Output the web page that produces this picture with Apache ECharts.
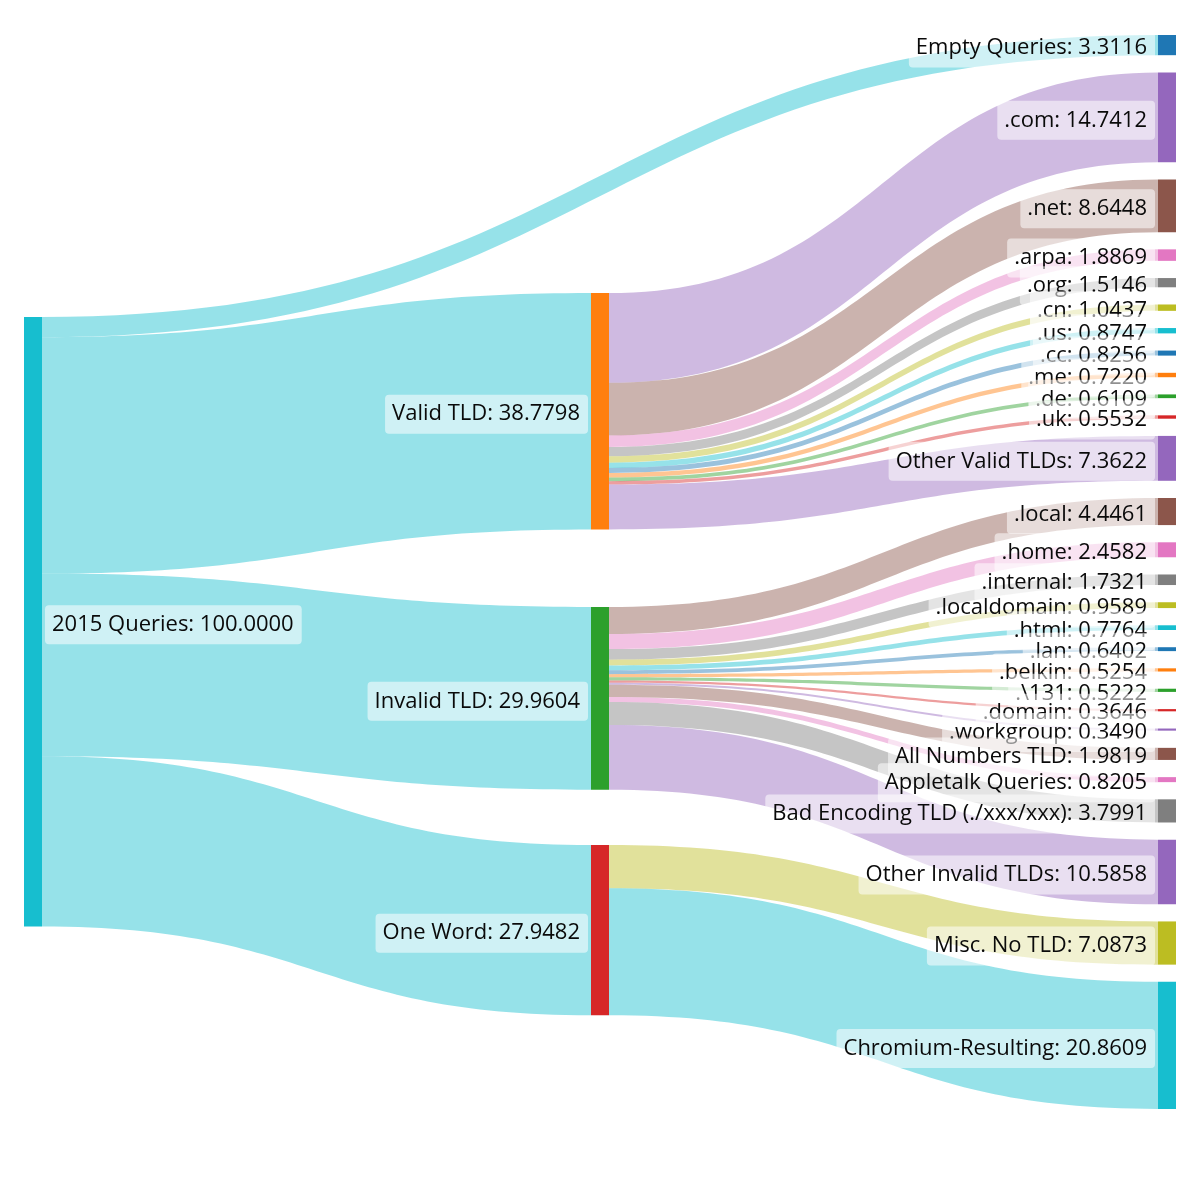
<!DOCTYPE html>
<html>
<head>
    <meta charset="utf-8">
    <title>2015 Queries</title>
    <script src="https://cdn.jsdelivr.net/npm/echarts@6.0.0/dist/echarts.min.js"></script>
    <style>
        html, body {
            margin: 0;
            padding: 0;
            background: #ffffff;
        }

        #sankey {
            width: 1200px;
            height: 1200px;
        }
    </style>
</head>
<body>
<div id="sankey"></div>
<script>
    // ---- data ----
    var rootName = '2015 Queries';

    var splitNames = ['Empty Queries', 'Valid TLD', 'Invalid TLD', 'One Word'];
    var splitValues = [3.3116, 38.7798, 29.9604, 27.9482];

    var validNames = ['.com', '.net', '.arpa', '.org', '.cn', '.us', '.cc', '.me', '.de', '.uk', 'Other Valid TLDs'];
    var validValues = [14.7412, 8.6448, 1.8869, 1.5146, 1.0437, 0.8747, 0.8256, 0.7220, 0.6109, 0.5532, 7.3622];

    var invalidNames = ['.local', '.home', '.internal', '.localdomain', '.html', '.lan', '.belkin', '.\\131',
        '.domain', '.workgroup', 'All Numbers TLD', 'Appletalk Queries', 'Bad Encoding TLD (./xxx/xxx)', 'Other Invalid TLDs'];
    var invalidValues = [4.4461, 2.4582, 1.7321, 0.9589, 0.7764, 0.6402, 0.5254, 0.5222,
        0.3646, 0.3490, 1.9819, 0.8205, 3.7991, 10.5858];

    var oneWordNames = ['Misc. No TLD', 'Chromium-Resulting'];
    var oneWordValues = [7.0873, 20.8609];

    // ---- styles ----
    var c10 = ['#1f77b4', '#ff7f0e', '#2ca02c', '#d62728', '#9467bd', '#8c564b', '#e377c2', '#7f7f7f', '#bcbd22', '#17becf'];
    var rootColor = c10[9];
    var splitColors = [c10[0], c10[1], c10[2], c10[3]];
    var validColors = [c10[4], c10[5], c10[6], c10[7], c10[8], c10[9], c10[0], c10[1], c10[2], c10[3], c10[4]];
    var invalidColors = [c10[5], c10[6], c10[7], c10[8], c10[9], c10[0], c10[1], c10[2], c10[3], c10[4], c10[5], c10[6], c10[7], c10[4]];
    var oneWordColors = [c10[8], c10[9]];

    // layout box of the series, and where the root / middle boxes sit (pixel top on the page);
    // the right-hand column is stacked by ECharts itself in data order
    var box = {left: 24, top: 35, right: 24, bottom: 91};
    var boxHeight = 1200 - box.top - box.bottom;
    var nodeTops = {'2015 Queries': 317, 'Valid TLD': 293, 'Invalid TLD': 607, 'One Word': 845};

    // ---- build nodes and links ----
    var nodes = [];
    var links = [];
    var values = {};

    function addNode(name, value, depth, color) {
        values[name] = value;
        var item = {
            name: name,
            depth: depth,
            itemStyle: {color: color},
            label: {position: depth === 0 ? 'right' : 'left'}
        };
        if (nodeTops[name] != null) {
            item.localY = (nodeTops[name] - box.top) / boxHeight;
        }
        nodes.push(item);
    }

    function addGroup(parent, names, vals, colors) {
        names.forEach(function (n, i) {
            addNode(n, vals[i], 2, colors[i]);
            links.push({source: parent, target: n, value: vals[i], lineStyle: {color: colors[i]}});
        });
    }

    addNode(rootName, splitValues.reduce(function (a, b) { return a + b; }, 0), 0, rootColor);
    splitNames.forEach(function (n, i) {
        // Empty Queries ends the flow, the others split further
        addNode(n, splitValues[i], i === 0 ? 2 : 1, splitColors[i]);
    });
    splitNames.forEach(function (n, i) {
        links.push({source: rootName, target: n, value: splitValues[i], lineStyle: {color: rootColor}});
    });
    // leaf order: Empty Queries first, then the children of each split
    var empty = nodes.splice(1, 1)[0];
    nodes.push(empty);
    addGroup('Valid TLD', validNames, validValues, validColors);
    addGroup('Invalid TLD', invalidNames, invalidValues, invalidColors);
    addGroup('One Word', oneWordNames, oneWordValues, oneWordColors);

    var chart = echarts.init(document.getElementById('sankey'));
    chart.setOption({
        animation: false,
        series: [{
            type: 'sankey',
            left: box.left,
            top: box.top,
            right: box.right,
            bottom: box.bottom,
            nodeWidth: 18,
            nodeGap: 17.2,
            layoutIterations: 0,
            nodeAlign: 'justify',
            draggable: false,
            emphasis: {disabled: true},
            data: nodes,
            links: links,
            itemStyle: {borderWidth: 0},
            lineStyle: {curveness: 0.5, opacity: 0.45},
            label: {
                color: '#0a0a0a',
                fontFamily: 'Open Sans',
                fontSize: 22,
                lineHeight: 22,
                backgroundColor: 'rgba(255,255,255,0.55)',
                borderRadius: 4,
                padding: [9, 8, 8, 7],
                distance: 3,
                offset: [0, 3],
                formatter: function (p) {
                    return p.name + ': ' + values[p.name].toFixed(4);
                }
            }
        }]
    });
</script>
</body>
</html>
